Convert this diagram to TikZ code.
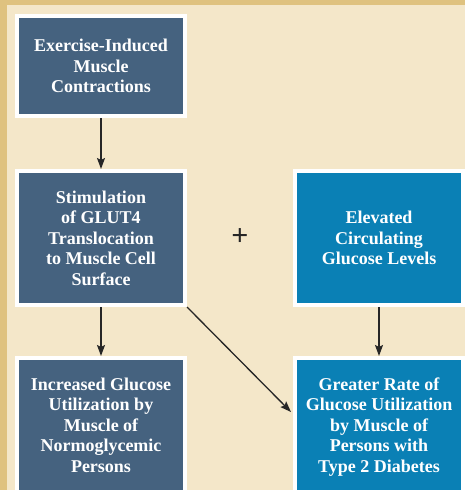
\documentclass[tikz,border=0pt]{standalone}
\usepackage{fontspec}
\setmainfont{Liberation Serif}
\usetikzlibrary{arrows.meta}
\definecolor{tan}{RGB}{223,194,127}
\definecolor{sand}{RGB}{244,231,201}
\definecolor{slate}{RGB}{69,98,127}
\definecolor{cyanblue}{RGB}{10,128,181}
\tikzset{
  boxtext/.style={text=white, align=center, inner sep=0pt,
    font=\fontsize{18}{20.5}\selectfont\bfseries},
  box/.style={boxtext, draw=white, line width=4pt, minimum width=168pt},
  slatebox/.style={box, fill=slate},
  bluebox/.style={box, fill=cyanblue},
  arr/.style={-{Stealth[length=11pt,width=8pt,inset=2pt]}, line width=1.3pt, black!85}
}
\newcommand{\drawslate}{\node[slatebox]}
\newcommand{\drawblue}{\node[bluebox]}

\begin{document}
\begin{tikzpicture}[x=1pt,y=-1pt]
\clip (0,0) rectangle (465,490);
\fill[tan] (0,0) rectangle (465,490);
\fill[sand] (7,5) rectangle (465,490);

%top two rows
\drawslate[minimum height=100pt] (exer) at (101,66) {Exercise-Induced\\Muscle\\Contractions};
\drawslate[minimum height=134pt] (glut) at (101,238) {Stimulation\\of GLUT4\\Translocation\\to Muscle Cell\\Surface};
\drawblue[minimum height=134pt] (elev) at (379,238) {Elevated\\Circulating\\Glucose Levels};
\node[font=\fontsize{30}{30}\selectfont\bfseries, text=black!85, inner sep=0pt] (plus) at (240,237) {+};

%bottom row runs off the page
\drawslate[minimum height=150pt, anchor=north] (norm) at (101,356) {};
\drawblue[minimum height=150pt, anchor=north] (diab) at (379,356) {};
\node[boxtext] (normtext) at (101,425) {Increased Glucose\\Utilization by\\Muscle of\\Normoglycemic\\Persons};
\node[boxtext] (diabtext) at (379,427) {Greater Rate of\\Glucose Utilization\\by Muscle of\\Persons with\\Type 2 Diabetes};
\coordinate (diabin) at (291,412);

\draw[arr] (exer) -- (glut);
\draw[arr] (glut) -- (norm);
\draw[arr] (elev) -- (diab);
\draw[arr] (glut.south east) -- (diabin);
\end{tikzpicture}
\end{document}
